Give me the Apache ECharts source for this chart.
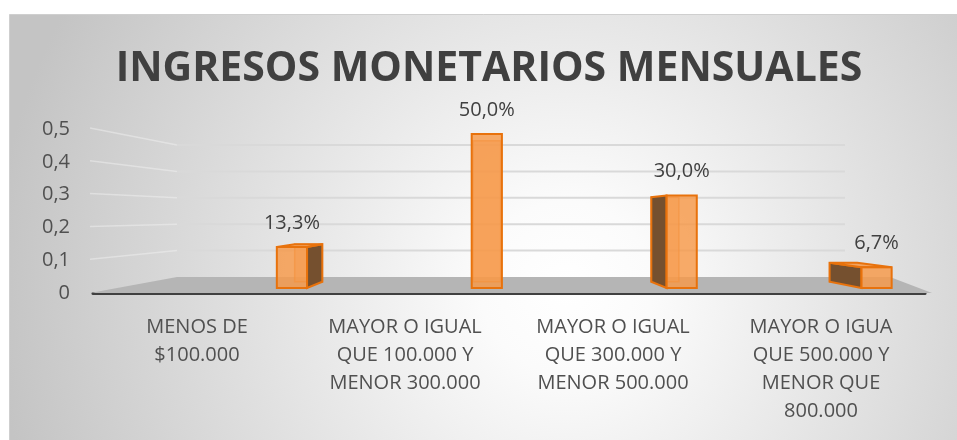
<!DOCTYPE html>
<html><head><meta charset="utf-8">
<script src="https://cdn.jsdelivr.net/npm/echarts@6/dist/echarts.min.js"></script>
<style>html,body{margin:0;padding:0;background:#fff;}#c{width:957px;height:440px;}</style>
</head><body><div id="c"></div>
<script>
const chartTitle = 'INGRESOS MONETARIOS MENSUALES';
const categories = [
  'MENOS DE\n$100.000',
  'MAYOR O IGUAL\nQUE 100.000 Y\nMENOR 300.000',
  'MAYOR O IGUAL\nQUE 300.000 Y\nMENOR 500.000',
  'MAYOR O IGUA\nQUE 500.000 Y\nMENOR QUE\n800.000'
];
const values = [0.133, 0.5, 0.3, 0.067];
const yTicks = [0, 0.1, 0.2, 0.3, 0.4, 0.5];

const FONT = '"Open Sans", sans-serif';
const TXT = '#505050';
const G0 = {left: 93, top: 129, width: 832, height: 164};   // front plane
const G1 = {left: 177, top: 145, width: 668, height: 132};  // back wall
const G2 = {left: 194.5, top: 134, width: 762, height: 154}; // bars plane (clipped at right edge)
const BAR_X_MAX = 3.5 - (194.5 + 780 - 957) / 195;           // keep 195px per category

const fmtAxis = v => String(Math.round(v * 10) / 10).replace('.', ',');
const fmtPct = v => (v * 100).toFixed(1).replace('.', ',') + '%';

const chart = echarts.init(document.getElementById('c'), null, {renderer: 'canvas'});

function wallItem(params, api) {
  const v = api.value(1);
  const cs = params.coordSys;
  const yb = api.coord([0, v])[1];
  const xl = cs.x, xr = cs.x + cs.width;
  const yf = G0.top + G0.height * (1 - v / 0.5) - 1;
  const xf = G0.left - 3;
  if (v === 0) {
    return {type: 'polygon', shape: {points: [[xf, yf + 1], [xl, yb], [xr + 45, yb], [G0.left + G0.width + 7, yf + 1]]},
      style: {fill: '#b5b5b5'}};
  }
  return {type: 'group', children: [
    {type: 'line', shape: {x1: xl, y1: yb, x2: xr, y2: yb}, style: {stroke: '#d9d9d9', lineWidth: 2}},
    {type: 'line', shape: {x1: xf, y1: yf, x2: xl, y2: yb}, style: {stroke: 'rgba(245,245,245,0.45)', lineWidth: 1.5}}
  ]};
}

function barItem(params, api) {
  const i = api.value(0), v = api.value(1);
  const top = api.coord([i, v]), bot = api.coord([i, 0]);
  const vx = api.coord([1, 0])[0];
  const vy = api.coord([1, 0.24])[1];
  const k = 0.085;
  const w = api.size([1, 0])[0] * 0.155;
  const xl = top[0] - w / 2, xr = top[0] + w / 2, yt = top[1], yb = bot[1];
  const B = (x, y) => [x + k * (vx - x), y + k * (vy - y)];
  const children = [];
  const stroke = '#E8720C';
  const b1 = B(xl, yt), b2 = B(xr, yt), b3 = B(xr, yb), b4 = B(xl, yb);
  children.push({type: 'polygon', shape: {points: [b1, b2, b3, b4]}, style: {fill: 'rgba(245,160,90,0.5)', stroke: 'rgba(232,114,12,0.6)', lineWidth: 1.5}});
  if (top[0] < vx - 1) {
    children.push({type: 'polygon', shape: {points: [[xr, yt], b2, b3, [xr, yb]]}, style: {fill: '#75502f', stroke: stroke, lineWidth: 2}});
  } else if (top[0] > vx + 1) {
    children.push({type: 'polygon', shape: {points: [[xl, yt], b1, b4, [xl, yb]]}, style: {fill: '#75502f', stroke: stroke, lineWidth: 2}});
  }
  if (yt > vy) {
    children.push({type: 'polygon', shape: {points: [[xl, yt], [xr, yt], b2, b1]}, style: {fill: '#f2a35f', stroke: stroke, lineWidth: 2}});
  }
  children.push({type: 'rect', shape: {x: xl, y: yt, width: w, height: yb - yt}, style: {fill: 'rgba(247,152,72,0.82)', stroke: stroke, lineWidth: 2}});
  children.push({type: 'text', x: top[0], y: yt - 24, style: {text: fmtPct(v), font: '20px ' + FONT, fill: '#404040', align: 'center', verticalAlign: 'middle'}});
  return {type: 'group', children};
}

const option = {
  backgroundColor: '#ffffff',
  animation: false,
  graphic: [
    {type: 'rect', z: -100, shape: {x: 9.5, y: 14.5, width: 960, height: 440},
      style: {stroke: '#cfcfcf', lineWidth: 1,
        fill: {type: 'radial', x: 0.58, y: 0.62, r: 1.3, colorStops: [
          {offset: 0, color: '#ffffff'}, {offset: 0.15, color: '#fbfbfb'}, {offset: 1, color: '#c4c4c4'}]}}},
    {type: 'text', z: 100, x: 489, y: 69, style: {text: chartTitle, font: 'bold 41px ' + FONT, fill: '#404040', align: 'center', verticalAlign: 'middle'}}
  ],
  grid: [
    Object.assign({}, G0),
    Object.assign({}, G1),
    Object.assign({}, G2)
  ],
  xAxis: [
    {type: 'category', gridIndex: 0, data: categories, boundaryGap: true,
      axisLine: {lineStyle: {color: '#404040', width: 3}}, axisTick: {show: false},
      axisLabel: {margin: 20, fontSize: 20, lineHeight: 28, color: TXT, fontFamily: FONT, interval: 0}},
    {type: 'value', gridIndex: 1, min: 0, max: 1, show: false},
    {type: 'value', gridIndex: 2, min: -0.5, max: BAR_X_MAX, show: false}
  ],
  yAxis: [
    {type: 'value', gridIndex: 0, min: 0, max: 0.5, interval: 0.1,
      axisLine: {show: false}, axisTick: {show: false}, splitLine: {show: false},
      axisLabel: {margin: 23, fontSize: 20, color: TXT, fontFamily: FONT, formatter: fmtAxis}},
    {type: 'value', gridIndex: 1, min: 0, max: 0.5, show: false},
    {type: 'value', gridIndex: 2, min: 0, max: 0.5, show: false}
  ],
  series: [
    {type: 'custom', name: 'wall', xAxisIndex: 1, yAxisIndex: 1, z: 1, silent: true, clip: false,
      renderItem: wallItem, data: yTicks.map(v => [0, v])},
    {type: 'custom', name: 'bars', xAxisIndex: 2, yAxisIndex: 2, z: 3, silent: true, clip: false,
      renderItem: barItem, data: values.map((v, i) => [i, v])}
  ]
};
chart.setOption(option);
</script></body></html>
